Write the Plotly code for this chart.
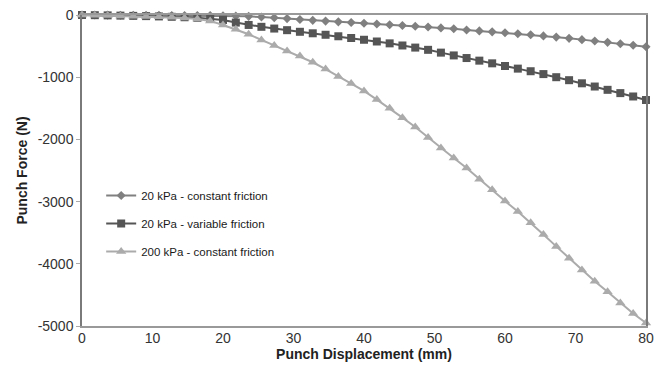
import plotly.graph_objects as go

# Punch displacement (mm) at each recorded increment
displacement = [0.0, 1.82, 3.64, 5.45, 7.27, 9.09, 10.91, 12.73, 14.55, 16.36,
                18.18, 20.0, 21.82, 23.64, 25.45, 27.27, 29.09, 30.91, 32.73, 34.55,
                36.36, 38.18, 40.0, 41.82, 43.64, 45.45, 47.27, 49.09, 50.91, 52.73,
                54.55, 56.36, 58.18, 60.0, 61.82, 63.64, 65.45, 67.27, 69.09, 70.91,
                72.73, 74.55, 76.36, 78.18, 80.0]

# Punch force (N), 20 kPa with constant friction
force_20_const = [0, -1, -2, -3, -4, -5, -6, -7, -8, -9,
                  -10, -12, -15, -22, -33, -45, -58, -72, -86, -98,
                  -110, -121, -133, -145, -157, -168, -180, -193, -207, -222,
                  -240, -256, -271, -286, -302, -318, -336, -355, -375, -396,
                  -418, -440, -463, -487, -510]

# Punch force (N), 20 kPa with variable friction
force_20_var = [0, -3, -6, -10, -14, -18, -23, -29, -36, -45,
                -58, -80, -122, -160, -190, -218, -244, -270, -294, -318,
                -342, -370, -398, -426, -456, -490, -524, -560, -605, -650,
                -692, -734, -777, -820, -862, -904, -950, -1000, -1048, -1098,
                -1150, -1203, -1256, -1310, -1367]

# Punch force (N), 200 kPa with constant friction
force_200_const = [0, -5, -10, -15, -20, -25, -30, -38, -48, -65,
                   -95, -160, -230, -310, -400, -490, -580, -660, -760, -870,
                   -990, -1100, -1220, -1360, -1500, -1650, -1800, -1970, -2140, -2300,
                   -2460, -2640, -2810, -2990, -3160, -3340, -3530, -3720, -3910, -4100,
                   -4280, -4450, -4630, -4800, -4950]

# Axis tick positions and labels (plain hyphen for negatives)
x_ticks = [0, 10, 20, 30, 40, 50, 60, 70, 80]
x_tick_labels = ["0", "10", "20", "30", "40", "50", "60", "70", "80"]
y_ticks = [0, -1000, -2000, -3000, -4000, -5000]
y_tick_labels = ["0", "-1000", "-2000", "-3000", "-4000", "-5000"]

series = [
    ("20 kPa - constant friction", force_20_const, "#808080", "diamond", 7),
    ("20 kPa - variable friction", force_20_var, "#555555", "square", 8),
    ("200 kPa - constant friction", force_200_const, "#ababab", "triangle-up", 9),
]

fig = go.Figure()
for i, (name, values, color, symbol, size) in enumerate(series):
    fig.add_trace(go.Scatter(
        x=displacement, y=values, name=name, mode="lines+markers",
        line=dict(color=color, width=2),
        marker=dict(symbol=symbol, size=size, color=color),
        legendgroup=f"g{i}", cliponaxis=False,
    ))

fig.update_layout(
    width=666, height=365,
    margin=dict(l=82, r=20, t=15, b=39),
    paper_bgcolor="white", plot_bgcolor="white",
    font=dict(family="Liberation Sans, Arial, sans-serif", color="#222222"),
    showlegend=True,
    legend=dict(
        x=0.034, y=0.466, xanchor="left", yanchor="top",
        bgcolor="rgba(0,0,0,0)", font=dict(size=11.5, color="#1a1a1a"),
        tracegroupgap=9, itemwidth=30,
    ),
    xaxis=dict(
        range=[0, 80], tickmode="array", tickvals=x_ticks, ticktext=x_tick_labels,
        showgrid=False, zeroline=False, automargin=False,
        showline=True, linecolor="#999999", linewidth=1.5, mirror=True,
        ticks="", ticklabelstandoff=-2, tickfont=dict(size=14, color="#333333"),
        title=dict(text="<b>Punch Displacement (mm)</b>", font=dict(size=14, color="#222222"), standoff=0),
    ),
    yaxis=dict(
        range=[-5000, 0], tickmode="array", tickvals=y_ticks, ticktext=y_tick_labels,
        showgrid=False, zeroline=False, automargin=False,
        showline=True, linecolor="#7a7a7a", linewidth=1.5, mirror=True,
        ticks="outside", ticklen=4, tickcolor="#aaaaaa",
        tickfont=dict(size=14, color="#333333"),
        title=dict(text="<b>Punch Force (N)</b>", font=dict(size=14, color="#222222"), standoff=7),
    ),
)

fig.write_html("out.html")
